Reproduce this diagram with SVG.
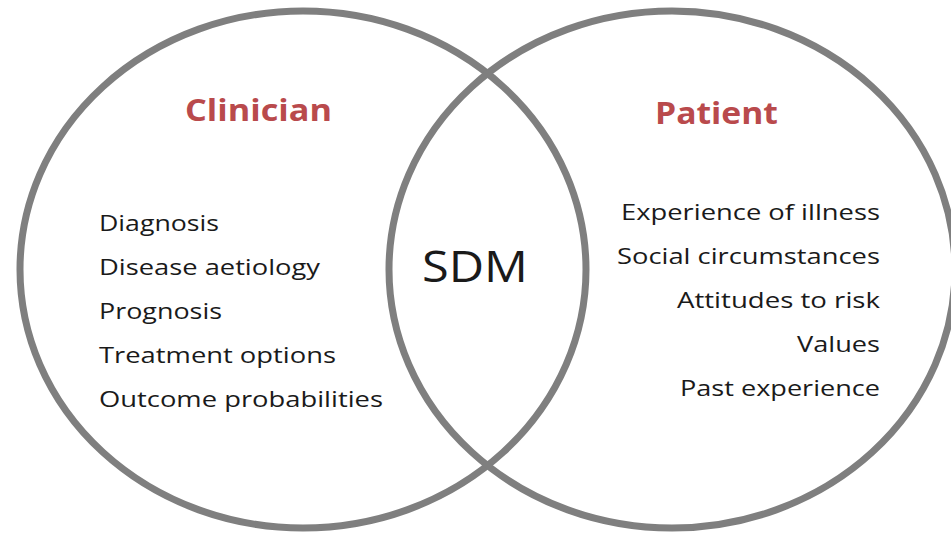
<svg xmlns="http://www.w3.org/2000/svg" width="951" height="536" viewBox="0 0 951 536">
<style>
.ring{fill:none;stroke:#7f7f7f;stroke-width:7}
.t{font-family:"Open Sans","Liberation Sans",sans-serif;font-size:22px;fill:#1a1a1a}
.h{font-family:"Open Sans","Liberation Sans",sans-serif;font-size:31px;font-weight:700;fill:#b94a4c}
.r{text-anchor:end}
</style>
<rect width="951" height="536" fill="#ffffff"/>
<g id="clinician">
<ellipse class="ring" cx="303" cy="269.5" rx="283" ry="258.5"/>
<text class="h" x="185" y="121" textLength="147" lengthAdjust="spacingAndGlyphs">Clinician</text>
<text class="t" x="99" y="231" textLength="120" lengthAdjust="spacingAndGlyphs">Diagnosis</text>
<text class="t" x="99" y="275" textLength="221" lengthAdjust="spacingAndGlyphs">Disease aetiology</text>
<text class="t" x="99" y="319" textLength="123" lengthAdjust="spacingAndGlyphs">Prognosis</text>
<text class="t" x="99" y="363" textLength="237" lengthAdjust="spacingAndGlyphs">Treatment options</text>
<text class="t" x="99" y="407" textLength="284" lengthAdjust="spacingAndGlyphs">Outcome probabilities</text>
</g>
<g id="patient">
<ellipse class="ring" cx="672" cy="269.5" rx="283" ry="258.5"/>
<text class="h" x="655" y="124" textLength="123" lengthAdjust="spacingAndGlyphs">Patient</text>
<text class="t" x="621" y="220" textLength="259" lengthAdjust="spacingAndGlyphs">Experience of illness</text>
<text class="t" x="617" y="264" textLength="263" lengthAdjust="spacingAndGlyphs">Social circumstances</text>
<text class="t" x="677" y="308" textLength="203" lengthAdjust="spacingAndGlyphs">Attitudes to risk</text>
<text class="t" x="797" y="352" textLength="83" lengthAdjust="spacingAndGlyphs">Values</text>
<text class="t" x="680" y="396" textLength="200" lengthAdjust="spacingAndGlyphs">Past experience</text>
</g>
<g id="sdm">
<text class="t" x="422" y="282" style="font-size:43px" textLength="106" lengthAdjust="spacingAndGlyphs">SDM</text>
</g>
<g id="connectors"></g>
</svg>
